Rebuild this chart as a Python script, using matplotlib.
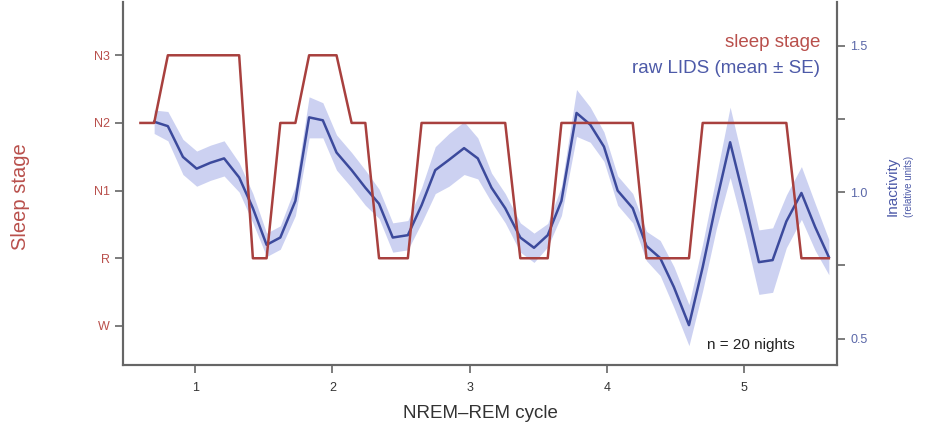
import matplotlib
matplotlib.use("Agg")
import matplotlib.pyplot as plt
import numpy as np

plt.rcParams["font.family"] = ["Liberation Sans", "DejaVu Sans"]

# sample positions along the NREM-REM cycle axis
cycle_x = [0.60, 0.70, 0.80, 0.91, 1.01, 1.11, 1.21, 1.32, 1.42, 1.52,
           1.62, 1.73, 1.83, 1.93, 2.03, 2.14, 2.24, 2.34, 2.44, 2.55,
           2.65, 2.75, 2.85, 2.96, 3.06, 3.16, 3.26, 3.37, 3.47, 3.57,
           3.67, 3.78, 3.88, 3.98, 4.08, 4.19, 4.29, 4.39, 4.49, 4.60,
           4.70, 4.80, 4.90, 5.01, 5.11, 5.21, 5.31, 5.42, 5.52, 5.62]

# sleep stage per sample (0=W, 1=R, 2=N1, 3=N2, 4=N3)
stage = [3, 3, 4, 4, 4, 4, 4, 4, 1, 1,
         3, 3, 4, 4, 4, 3, 3, 1, 1, 1,
         3, 3, 3, 3, 3, 3, 3, 1, 1, 1,
         3, 3, 3, 3, 3, 3, 1, 1, 1, 1,
         3, 3, 3, 3, 3, 3, 3, 1, 1, 1]
stage_labels = ["W", "R", "N1", "N2", "N3"]

# raw LIDS mean and SE (starts at the second sample)
lids_mean = [1.24, 1.225, 1.12, 1.08, 1.10, 1.115, 1.05, 0.945, 0.82,
             0.845, 0.97, 1.255, 1.245, 1.135, 1.075, 1.015, 0.96, 0.845, 0.853,
             0.955, 1.075, 1.11, 1.15, 1.115, 1.015, 0.945, 0.845, 0.81, 0.853,
             0.97, 1.27, 1.23, 1.155, 1.005, 0.945, 0.816, 0.775, 0.676, 0.546,
             0.744, 0.966, 1.17, 0.962, 0.761, 0.768, 0.90, 0.997, 0.881, 0.778]
lids_se = [0.04, 0.05, 0.06, 0.06, 0.06, 0.06, 0.05, 0.05, 0.04,
           0.04, 0.05, 0.07, 0.06, 0.06, 0.06, 0.06, 0.05, 0.05, 0.05,
           0.06, 0.08, 0.09, 0.09, 0.07, 0.05, 0.05, 0.05, 0.05, 0.04,
           0.05, 0.08, 0.06, 0.05, 0.05, 0.05, 0.05, 0.06, 0.07, 0.07,
           0.08, 0.09, 0.12, 0.11, 0.11, 0.11, 0.09, 0.09, 0.08, 0.06]

red = "#a8403e"
red_txt = "#b9504c"
blue = "#3c4a9c"
blue_txt = "#4d5aa8"
band = "#c3c9ef"
grey = "#666666"

fig = plt.figure(figsize=(9.27, 4.33), dpi=100)
ax = fig.add_axes([0.1327, 0.157, 0.7703, 0.838])
ax2 = ax.twinx()

lx = np.array(cycle_x[1:])
m = np.array(lids_mean)
se = np.array(lids_se)
ax2.fill_between(lx, m - se, m + se, color=band, alpha=0.85, lw=0, zorder=1)
ax2.plot(lx, m, color=blue, lw=1.8, zorder=3)
ax.plot(cycle_x, stage, color=red, lw=1.8, zorder=2)

# keep the stage line on top of the LIDS band
ax.set_zorder(ax2.get_zorder() + 1)
ax.patch.set_visible(False)

ax.set_xlim(0.473, 5.68)
ax.set_ylim(-0.578, 4.785)
ax2.set_ylim(0.41, 1.648)

ax.set_xticks([1, 2, 3, 4, 5])
ax.set_yticks(range(5))
ax.set_yticklabels(stage_labels, color=red_txt, fontsize=9)
ax2.set_yticks([0.5, 0.75, 1.0, 1.25, 1.5])
ax2.set_yticklabels(["0.5", "", "1.0", "", "1.5"], color="#5a67a8", fontsize=9)

for a in (ax, ax2):
    a.spines["top"].set_visible(False)
    for s in ("left", "right", "bottom"):
        a.spines[s].set_color(grey)
        a.spines[s].set_linewidth(1.5)
    a.tick_params(direction="out", length=6, width=1.2, color=grey, labelsize=9)
ax.tick_params(axis="x", labelcolor="#333333", pad=6)

ax.set_xlabel("NREM\u2013REM cycle", fontsize=13.5, color="#333333", labelpad=8)
fig.text(0.022, 0.545, "Sleep stage", rotation=90, ha="center", va="center",
         fontsize=14.5, color=red_txt)
fig.text(0.963, 0.57, "Inactivity", rotation=90, ha="center", va="center",
         fontsize=11, color=blue_txt)
fig.text(0.981, 0.57, "(relative units)", rotation=90, ha="center", va="center",
         fontsize=7, color=blue_txt)

ax.text(0.976, 0.89, "sleep stage", transform=ax.transAxes, ha="right",
        va="center", fontsize=13.5, color=red_txt)
ax.text(0.976, 0.818, "raw LIDS (mean \u00b1 SE)", transform=ax.transAxes,
        ha="right", va="center", fontsize=13.5, color=blue_txt)
ax.text(0.941, 0.055, "n = 20 nights", transform=ax.transAxes, ha="right",
        va="center", fontsize=11, color="#222222")

fig.savefig("out.png", dpi=100)
